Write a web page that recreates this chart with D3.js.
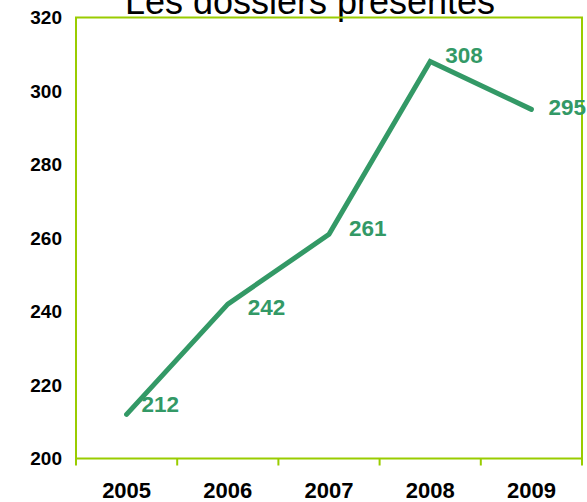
<!DOCTYPE html>
<html><head><meta charset="utf-8">
<script src="https://cdn.jsdelivr.net/npm/d3@7"></script>
<style>html,body{margin:0;padding:0;background:#fff;}svg{display:block;}</style>
</head><body>
<svg id="c" width="587" height="502"></svg>
<script>
const title = "Les dossiers présentés";
const years = ["2005","2006","2007","2008","2009"];
const values = [212, 242, 261, 308, 295];
const yTicks = [200, 220, 240, 260, 280, 300, 320];
// label placement offsets (style only)
const labelDx = [15, 20, 20, 15, 17];
const labelDy = [-2, 11, 2, 1, 6];

const W = 587, H = 502;
const m = {left: 76, right: 5, top: 17.5, bottom: 43.5};
const svg = d3.select("#c");
const font = "Liberation Sans, Arial, sans-serif";
const frameColor = "#99cc00";
const green = "#339966";

const x = d3.scaleBand().domain(years).range([m.left, W - m.right]).padding(0);
const y = d3.scaleLinear().domain([200, 320]).range([H - m.bottom, m.top]);

// title
svg.append("text").attr("x", 310).attr("y", 14).attr("text-anchor", "middle")
  .attr("font-family", font).attr("font-size", 36).attr("fill", "#000").text(title);

// frame
svg.append("rect").attr("x", m.left).attr("y", m.top)
  .attr("width", W - m.right - m.left).attr("height", H - m.bottom - m.top)
  .attr("fill", "none").attr("stroke", frameColor).attr("stroke-width", 2);

// x axis
const xAxis = d3.axisBottom(x).tickSize(0).tickPadding(0);
const gx = svg.append("g").attr("transform", `translate(0,${H - m.bottom})`).call(xAxis);
gx.select(".domain").remove();
gx.selectAll("text").attr("font-family", font).attr("font-size", 22).attr("font-weight", "bold")
  .attr("fill", "#000").attr("dy", null).attr("y", 39.5);
// boundary ticks
const bounds = years.map(d => x(d)).concat([W - m.right]);
svg.append("g").selectAll("line").data(bounds).join("line")
  .attr("x1", d => d).attr("x2", d => d)
  .attr("y1", H - m.bottom).attr("y2", H - m.bottom + 7)
  .attr("stroke", frameColor).attr("stroke-width", 2);

// y axis labels
const yAxis = d3.axisLeft(y).tickValues(yTicks).tickSize(0).tickPadding(14);
const gy = svg.append("g").attr("transform", `translate(${m.left},0)`).call(yAxis);
gy.select(".domain").remove();
gy.selectAll("text").attr("font-family", font).attr("font-size", 19).attr("font-weight", "bold").attr("fill", "#000");

// line
const pts = years.map((d, i) => [x(d) + x.bandwidth() / 2, y(values[i])]);
svg.append("path").datum(pts)
  .attr("d", d3.line())
  .attr("fill", "none").attr("stroke", green).attr("stroke-width", 5)
  .attr("stroke-linecap", "round").attr("stroke-linejoin", "miter");

// data labels
svg.append("g").selectAll("text").data(values).join("text")
  .attr("x", (d, i) => pts[i][0] + labelDx[i])
  .attr("y", (d, i) => pts[i][1] + labelDy[i])
  .attr("font-family", font).attr("font-size", 22.5).attr("font-weight", "bold")
  .attr("fill", green).text(d => d);
</script>
</body></html>
